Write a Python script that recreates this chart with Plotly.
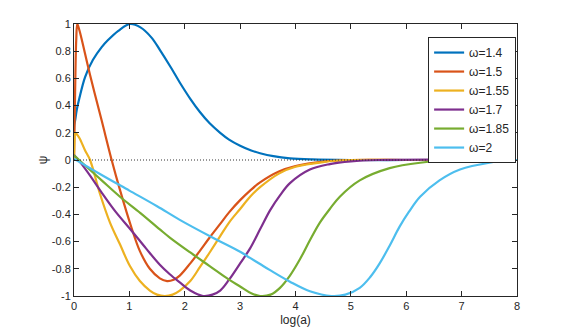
import plotly.graph_objects as go

# values
x14 = [0, 0.005, 0.02, 0.05, 0.1, 0.2, 0.34, 0.5, 0.61, 0.8, 1.01, 1.2, 1.4, 1.55, 1.75, 1.91, 2.1, 2.27,
       2.45, 2.64, 2.8, 3.0, 3.2, 3.36, 3.6, 3.9, 4.3, 5, 6, 7, 8]
y14 = [0.22, 0.26, 0.29, 0.37, 0.46, 0.61, 0.735, 0.83, 0.88, 0.95, 1.0, 0.975, 0.9, 0.81, 0.68, 0.57, 0.45,
       0.355, 0.27, 0.2, 0.15, 0.105, 0.07, 0.05, 0.028, 0.012, 0.004, 0, 0, 0, 0]

x15 = [0, 0.02, 0.04, 0.06, 0.1, 0.29, 0.5, 0.68, 0.83, 1.04, 1.19, 1.37, 1.55, 1.68, 1.8, 1.91, 2.1, 2.27,
       2.45, 2.64, 2.8, 3.0, 3.18, 3.36, 3.7, 4.0, 4.5, 5, 6, 8]
y15 = [0, 0.5, 0.88, 1.0, 0.95, 0.625, 0.29, 0, -0.22, -0.5, -0.67, -0.8, -0.87, -0.89, -0.88, -0.85, -0.76,
       -0.67, -0.57, -0.47, -0.385, -0.295, -0.225, -0.165, -0.085, -0.045, -0.012, 0, 0, 0]

x155 = [0, 0.01, 0.02, 0.05, 0.1, 0.2, 0.29, 0.47, 0.65, 0.83, 1.01, 1.19, 1.37, 1.5, 1.64, 1.78, 1.91, 2.1,
        2.27, 2.45, 2.64, 2.8, 3.0, 3.18, 3.36, 3.7, 4.0, 4.5, 5, 6, 8]
y155 = [0, 0.15, 0.2, 0.19, 0.16, 0.07, 0, -0.25, -0.46, -0.62, -0.78, -0.89, -0.96, -0.99, -1.0, -0.99,
        -0.96, -0.89, -0.79, -0.68, -0.56, -0.46, -0.36, -0.27, -0.2, -0.1, -0.05, -0.015, 0, 0, 0]

x17 = [0, 0.1, 0.3, 0.5, 0.75, 1.04, 1.3, 1.55, 1.73, 1.91, 2.1, 2.33, 2.5, 2.64, 2.8, 3.0, 3.18, 3.36, 3.54,
       3.72, 3.9, 4.26, 4.62, 5, 5.5, 8]
y17 = [0.037, -0.01, -0.12, -0.24, -0.38, -0.52, -0.65, -0.77, -0.84, -0.9, -0.96, -1.0, -0.99, -0.96, -0.88,
       -0.76, -0.65, -0.51, -0.37, -0.26, -0.17, -0.07, -0.03, -0.01, 0, 0]

x185 = [0, 0.2, 0.5, 0.83, 1.2, 1.55, 1.73, 2.1, 2.45, 2.8, 3.0, 3.2, 3.36, 3.55, 3.72, 3.9, 4.08, 4.26,
        4.44, 4.62, 4.8, 5.16, 5.7, 6.25, 7, 8]
y185 = [0.035, -0.04, -0.15, -0.27, -0.39, -0.51, -0.57, -0.68, -0.78, -0.88, -0.93, -0.98, -1.0, -0.99,
        -0.94, -0.85, -0.73, -0.59, -0.46, -0.36, -0.27, -0.15, -0.06, -0.02, 0, 0]

x2 = [0, 0.5, 1.0, 1.5, 1.91, 2.5, 3.0, 3.18, 3.36, 3.54, 3.9, 4.26, 4.65, 4.9, 5.16, 5.35, 5.52, 5.7, 5.88,
      6.05, 6.25, 6.6, 6.97, 7.5, 8]
y2 = [0.01, -0.11, -0.225, -0.34, -0.44, -0.57, -0.675, -0.72, -0.765, -0.81, -0.895, -0.965, -1.0, -0.99,
      -0.94, -0.86, -0.76, -0.63, -0.49, -0.38, -0.27, -0.15, -0.07, -0.02, 0]

names = ['ω=1.4', 'ω=1.5', 'ω=1.55', 'ω=1.7', 'ω=1.85', 'ω=2']
colors = ['#0072BD', '#D95319', '#EDB120', '#7E2F8E', '#77AC30', '#4DBEEE']
series = [(x14, y14), (x15, y15), (x155, y155), (x17, y17), (x185, y185), (x2, y2)]

yticks = [-1, -0.8, -0.6, -0.4, -0.2, 0, 0.2, 0.4, 0.6, 0.8, 1]
ytext = ['-1', '-0.8', '-0.6', '-0.4', '-0.2', '0', '0.2', '0.4', '0.6', '0.8', '1']

fig = go.Figure()
for (xs, ys), name, c in zip(series, names, colors):
    fig.add_trace(go.Scatter(x=xs, y=ys, mode='lines', name=name,
                             line=dict(color=c, width=2.2, shape='spline', smoothing=1,
                                       simplify=False)))
fig.add_trace(go.Scatter(x=[0, 8], y=[0, 0], mode='lines', showlegend=False,
                         line=dict(color='#333333', width=1, dash='1px,2px')))

axis = dict(showline=True, linecolor='#262626', linewidth=1, mirror='ticks', ticks='inside',
            ticklen=5, tickcolor='#262626', showgrid=False, zeroline=False, automargin=False,
            tickfont=dict(size=11, color='#262626'))
fig.update_layout(
    width=572, height=333,
    margin=dict(l=74, r=55, t=24, b=37),
    paper_bgcolor='white', plot_bgcolor='white',
    font=dict(family='Liberation Sans, Arial, sans-serif', color='#262626'),
    xaxis=dict(axis, range=[0, 8], tickvals=[0, 1, 2, 3, 4, 5, 6, 7, 8],
               title=dict(text='log(a)', font=dict(size=12), standoff=4)),
    yaxis=dict(axis, range=[-1, 1], tickvals=yticks, ticktext=ytext,
               title=dict(text='ψ', font=dict(size=12), standoff=1)),
    legend=dict(x=0.998, y=0.952, xanchor='right', yanchor='top', bgcolor='white',
                bordercolor='#262626', borderwidth=1, font=dict(size=12), itemwidth=30,
                tracegroupgap=0),
)
# drop the default page margin so the figure fills the window exactly
fig.write_html("out.html", config={'displayModeBar': False},
               post_script="document.body.style.margin='0';")
